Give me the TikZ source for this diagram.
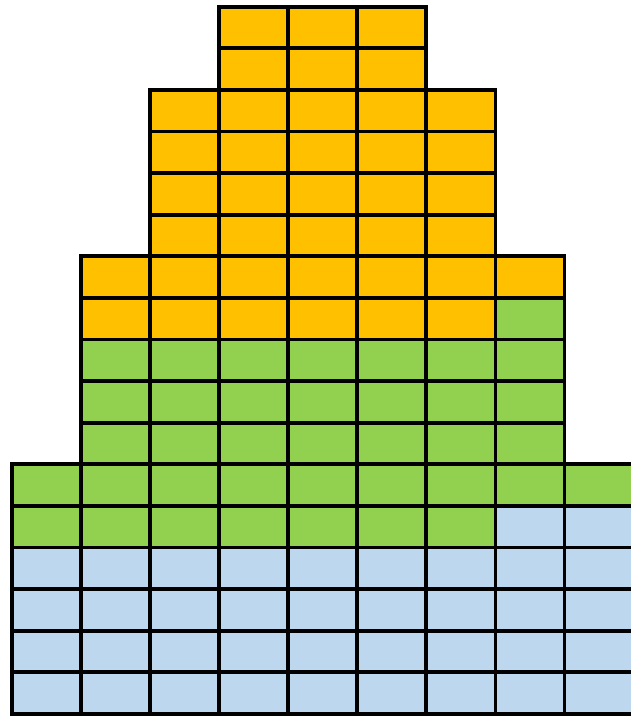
\documentclass[tikz,border=0pt]{standalone}
\definecolor{cOrange}{HTML}{FFC000}
\definecolor{cGreen}{HTML}{92D050}
\definecolor{cBlue}{HTML}{BDD7EE}
\tikzset{cell/.style={draw=black,line width=3.7pt}}
\newcommand{\cellat}[3]{% col, row, color
  \filldraw[cell,fill=#3] ({11.7+69.1*#1},{-6.7-41.6*#2}) rectangle ({11.7+69.1*(#1+1)},{-6.7-41.6*(#2+1)});}
\begin{document}
\begin{tikzpicture}[x=1pt,y=1pt]
\useasboundingbox (0,0) rectangle (631,-716);
\clip (0,0) rectangle (631,-716);
% orange
\foreach \r in {0,1}{\foreach \c in {3,4,5}{\cellat{\c}{\r}{cOrange}}}
\foreach \r in {2,...,5}{\foreach \c in {2,...,6}{\cellat{\c}{\r}{cOrange}}}
\foreach \c in {1,...,7}{\cellat{\c}{6}{cOrange}}
\foreach \c in {1,...,6}{\cellat{\c}{7}{cOrange}}
% green
\cellat{7}{7}{cGreen}
\foreach \r in {8,9,10}{\foreach \c in {1,...,7}{\cellat{\c}{\r}{cGreen}}}
\foreach \c in {0,...,8}{\cellat{\c}{11}{cGreen}}
\foreach \c in {0,...,6}{\cellat{\c}{12}{cGreen}}
% blue
\cellat{7}{12}{cBlue}
\cellat{8}{12}{cBlue}
\foreach \r in {13,...,16}{\foreach \c in {0,...,8}{\cellat{\c}{\r}{cBlue}}}
\end{tikzpicture}
\end{document}
